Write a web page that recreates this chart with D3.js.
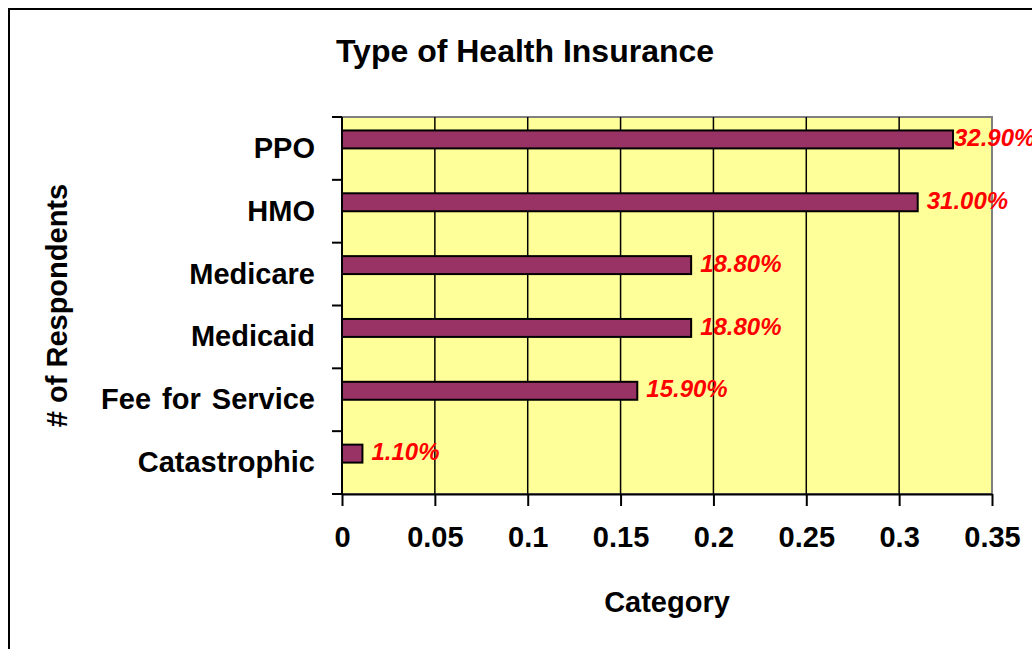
<!DOCTYPE html>
<html>
<head>
<meta charset="utf-8">
<script src="https://cdn.jsdelivr.net/npm/d3@7"></script>
<style>
  body { margin: 0; background: #fff; }
  svg { display: block; }
  text { font-family: Arial, "Liberation Sans", sans-serif; font-weight: bold; }
</style>
</head>
<body>
<svg width="1032" height="649"></svg>
<script>
// data (first category sits at the bottom, like Excel)
const categories = ['Catastrophic', 'Fee for Service', 'Medicaid', 'Medicare', 'HMO', 'PPO'];
const shares = [0.011, 0.159, 0.188, 0.188, 0.310, 0.329];
const xTicks = [0, 0.05, 0.1, 0.15, 0.2, 0.25, 0.3, 0.35];

const svg = d3.select('svg');
const width = +svg.attr('width');
const height = +svg.attr('height');

const data = categories.map((c, i) => ({ category: c, value: shares[i] }));

const margin = { top: 117, right: 40, bottom: 155, left: 342 };
const innerWidth = 992 - margin.left;
const innerHeight = height - margin.top - margin.bottom;

// outer chart border: only the top and left edges fall inside the picture
svg.append('path')
    .attr('d', `M9,${height} V9 H${width}`)
    .attr('fill', 'none')
    .attr('stroke', '#000')
    .attr('stroke-width', 2);

const g = svg.append('g')
    .attr('transform', `translate(${margin.left}, ${margin.top})`);

const xScale = d3.scaleLinear()
    .domain([0, 0.35])
    .range([0, innerWidth]);

const yScale = d3.scaleBand()
    .domain(categories.slice().reverse())
    .range([0, innerHeight]);

// bar occupies the first of two slots inside each category band
const slot = d3.scaleBand()
    .domain(['value', 'empty'])
    .range([0, yScale.bandwidth()])
    .paddingInner(0)
    .paddingOuter(0.75);

// plot area
g.append('rect')
    .attr('width', innerWidth)
    .attr('height', innerHeight)
    .attr('fill', '#ffff99')
    .attr('stroke', '#808080')
    .attr('stroke-width', 2);

// vertical gridlines
g.selectAll('.grid').data(xTicks.slice(1, -1))
    .enter().append('line')
    .attr('class', 'grid')
    .attr('x1', d => xScale(d)).attr('x2', d => xScale(d))
    .attr('y1', 0).attr('y2', innerHeight)
    .attr('stroke', '#000')
    .attr('stroke-width', 1.5);

// x axis
const xAxis = d3.axisBottom(xScale)
    .tickValues(xTicks)
    .tickFormat(d => d)
    .tickSize(12)
    .tickSizeOuter(0)
    .tickPadding(20);

const xAxisG = g.append('g')
    .attr('transform', `translate(0, ${innerHeight})`)
    .call(xAxis);
xAxisG.select('.domain').attr('stroke', '#000').attr('stroke-width', 2);
xAxisG.selectAll('.tick line').attr('stroke', '#000').attr('stroke-width', 2);
xAxisG.selectAll('.tick text')
    .attr('fill', '#000')
    .style('font-size', '29px')
    .style('font-family', 'Arial, "Liberation Sans", sans-serif')
    .style('font-weight', 'bold');

// y axis: ticks at band boundaries, labels at band centers
const yAxisG = g.append('g');
yAxisG.append('line')
    .attr('x1', 0).attr('x2', 0)
    .attr('y1', 0).attr('y2', innerHeight)
    .attr('stroke', '#000').attr('stroke-width', 2);

const boundaries = yScale.domain().map(c => yScale(c)).concat([innerHeight]);
yAxisG.selectAll('.ytick').data(boundaries)
    .enter().append('line')
    .attr('class', 'ytick')
    .attr('x1', -10).attr('x2', 0)
    .attr('y1', d => d).attr('y2', d => d)
    .attr('stroke', '#000').attr('stroke-width', 2);

yAxisG.selectAll('.ylabel').data(categories)
    .enter().append('text')
    .attr('class', 'ylabel')
    .attr('x', -27)
    .attr('y', d => yScale(d) + yScale.bandwidth() / 2)
    .attr('dy', '0.33em')
    .attr('text-anchor', 'end')
    .style('font-size', '29px')
    .style('word-spacing', '3px')
    .text(d => d);

// bars
g.selectAll('.bar').data(data)
    .enter().append('rect')
    .attr('class', 'bar')
    .attr('x', 0)
    .attr('y', d => yScale(d.category) + slot('value'))
    .attr('width', d => xScale(d.value))
    .attr('height', slot.bandwidth())
    .attr('fill', '#993366')
    .attr('stroke', '#000')
    .attr('stroke-width', 2);

// value labels (pulled left toward the bar end when near the right edge)
const labels = g.selectAll('.vlabel').data(data)
    .enter().append('text')
    .attr('class', 'vlabel')
    .attr('y', d => yScale(d.category) + slot('value') + slot.bandwidth() / 2)
    .attr('dy', '0.28em')
    .attr('fill', '#ff0000')
    .style('font-size', '24px')
    .style('font-style', 'italic')
    .text(d => d3.format('.2%')(d.value));

labels.attr('x', function(d) {
    const w = this.getComputedTextLength();
    const end = xScale(d.value);
    return Math.max(end + 1, Math.min(end + 9, width - margin.left - w));
});

// title
svg.append('text')
    .attr('x', 525)
    .attr('y', 62)
    .attr('text-anchor', 'middle')
    .style('font-size', '32px')
    .text('Type of Health Insurance');

// x axis label
svg.append('text')
    .attr('x', margin.left + innerWidth / 2)
    .attr('y', 612)
    .attr('text-anchor', 'middle')
    .style('font-size', '29px')
    .text('Category');

// y axis label
svg.append('text')
    .attr('transform', `translate(67, ${margin.top + innerHeight / 2}) rotate(-90)`)
    .attr('text-anchor', 'middle')
    .style('font-size', '29px')
    .text('# of Respondents');
</script>
</body>
</html>
